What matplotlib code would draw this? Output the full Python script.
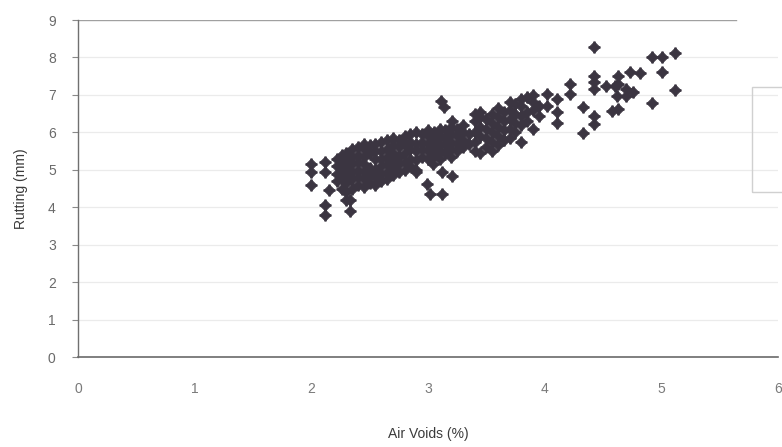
import matplotlib
matplotlib.use("Agg")
import matplotlib.pyplot as plt
from matplotlib.patches import Rectangle

plt.rcParams['font.family'] = ['Liberation Sans', 'DejaVu Sans']

# (air voids %, rutting mm)
air_voids = [
    2.00, 2.00, 2.00, 2.12, 2.12, 2.15, 2.12, 2.12, 2.33, 2.33,
    2.22, 2.22, 2.22, 2.22,
    2.26, 2.26, 2.26, 2.26, 2.26,
    2.30, 2.30, 2.30, 2.30, 2.30, 2.30, 2.30,
    2.35, 2.35, 2.35, 2.35, 2.35, 2.35,
    2.40, 2.40, 2.40, 2.40, 2.40, 2.40,
    2.45, 2.45, 2.45, 2.45, 2.45, 2.45, 2.45,
    2.50, 2.50, 2.50, 2.50, 2.50,
    2.55, 2.55, 2.55, 2.55, 2.55, 2.55,
    2.60, 2.60, 2.60, 2.60, 2.60, 2.60,
    2.65, 2.65, 2.65, 2.65, 2.65, 2.65,
    2.70, 2.70, 2.70, 2.70, 2.70, 2.70,
    2.75, 2.75, 2.75, 2.75, 2.75,
    2.80, 2.80, 2.80, 2.80, 2.80,
    2.85, 2.85, 2.85, 2.85, 2.85,
    2.90, 2.90, 2.90, 2.90, 2.90,
    2.95, 2.95, 2.95, 2.95,
    3.00, 3.00, 3.00, 3.00, 3.00,
    3.05, 3.05, 3.05, 3.05,
    3.10, 3.10, 3.10, 3.10, 3.10,
    3.15, 3.15, 3.15, 3.15,
    3.20, 3.20, 3.20, 3.20, 3.20,
    3.25, 3.25, 3.25, 3.25,
    3.30, 3.30, 3.30, 3.30,
    3.35, 3.35,
    2.90, 2.99, 3.02, 3.12, 3.12, 3.21, 3.04, 3.11, 3.14, 3.21,
    3.40, 3.40, 3.40, 3.40, 3.40,
    3.45, 3.45, 3.45, 3.45, 3.45,
    3.50, 3.50, 3.50, 3.50,
    3.55, 3.55, 3.55, 3.55, 3.55,
    3.60, 3.60, 3.60, 3.60, 3.60,
    3.65, 3.65, 3.65, 3.65,
    3.70, 3.70, 3.70, 3.70, 3.70,
    3.75, 3.75, 3.75, 3.75,
    3.80, 3.80, 3.80, 3.80, 3.80,
    3.85, 3.85, 3.85,
    3.90, 3.90, 3.90, 3.90,
    3.95, 3.95,
    4.02, 4.02, 4.11, 4.11, 4.11, 4.22, 4.22, 4.33, 4.33,
    4.42, 4.42, 4.42, 4.42, 4.42, 4.42,
    4.53, 4.60, 4.63, 4.63, 4.63, 4.58, 4.62,
    4.70, 4.70, 4.76, 4.73, 4.82,
    4.92, 4.92, 5.01, 5.01, 5.12, 5.12,
]
rutting = [
    5.15, 4.95, 4.60, 5.20, 4.95, 4.45, 4.05, 3.80, 4.20, 3.90,
    4.70, 4.90, 5.10, 5.30,
    4.50, 4.80, 5.00, 5.20, 5.40,
    4.20, 4.40, 4.65, 4.85, 5.05, 5.25, 5.45,
    4.50, 4.75, 4.95, 5.15, 5.35, 5.55,
    4.60, 4.80, 5.00, 5.20, 5.40, 5.60,
    4.55, 4.75, 4.95, 5.15, 5.35, 5.55, 5.70,
    4.65, 4.85, 5.05, 5.45, 5.65,
    4.60, 4.80, 5.00, 5.30, 5.50, 5.70,
    4.70, 4.90, 5.10, 5.30, 5.50, 5.75,
    4.75, 4.95, 5.15, 5.35, 5.55, 5.80,
    4.85, 5.05, 5.25, 5.45, 5.65, 5.85,
    4.95, 5.15, 5.35, 5.60, 5.80,
    5.00, 5.20, 5.45, 5.70, 5.90,
    5.10, 5.30, 5.55, 5.75, 5.95,
    5.00, 5.25, 5.50, 5.70, 6.00,
    5.35, 5.55, 5.75, 5.95,
    5.30, 5.50, 5.70, 5.90, 6.05,
    5.40, 5.60, 5.80, 6.00,
    5.30, 5.50, 5.70, 5.90, 6.10,
    5.45, 5.65, 5.85, 6.05,
    5.35, 5.55, 5.75, 5.95, 6.15,
    5.50, 5.70, 5.90, 6.10,
    5.60, 5.80, 6.00, 6.20,
    5.70, 5.95,
    4.95, 4.63, 4.36, 4.36, 4.95, 4.84, 5.16, 6.85, 6.68, 6.31,
    5.50, 5.75, 6.00, 6.30, 6.50,
    5.45, 5.90, 6.15, 6.40, 6.55,
    5.60, 5.85, 6.10, 6.35,
    5.50, 5.75, 6.00, 6.25, 6.50,
    5.65, 5.90, 6.15, 6.40, 6.65,
    5.80, 6.05, 6.30, 6.55,
    5.85, 6.10, 6.35, 6.60, 6.80,
    6.00, 6.25, 6.50, 6.75,
    5.75, 6.20, 6.45, 6.70, 6.90,
    6.30, 6.55, 6.95,
    6.10, 6.60, 6.80, 7.00,
    6.45, 6.70,
    6.71, 7.03, 6.90, 6.55, 6.26, 7.30, 7.03, 6.68, 5.99,
    8.29, 7.50, 7.35, 7.17, 6.44, 6.23,
    7.25, 7.25, 7.50, 7.30, 6.63, 6.58, 6.97,
    7.17, 6.97, 7.09, 7.62, 7.59,
    8.00, 6.79, 8.00, 7.62, 8.12, 7.14,
]

x_ticks = [0, 1, 2, 3, 4, 5, 6]
y_ticks = [0, 1, 2, 3, 4, 5, 6, 7, 8, 9]

fig = plt.figure(figsize=(7.82, 4.47), dpi=100)
ax = fig.add_axes([0.0997, 0.2013, 0.895, 0.7539])

ax.scatter(air_voids, rutting, marker='D', s=32, color='#3b3541',
           edgecolors='#3b3541', linewidths=0.6, zorder=3)
ax.scatter(air_voids, rutting, marker='+', s=70, color='#3b3541',
           linewidths=1.8, zorder=3)

ax.set_xlim(0, 6)
ax.set_ylim(0, 9)
ax.set_xticks(x_ticks)
ax.set_yticks(y_ticks)

for yv in y_ticks[1:-1]:
    ax.axhline(yv, color='#ebebeb', lw=0.9, zorder=1)
ax.axhline(9, xmin=0, xmax=0.94, color='#a0a0a0', lw=1.0, zorder=1)

for s in ['top', 'right']:
    ax.spines[s].set_visible(False)
ax.spines['left'].set_color('#707070')
ax.spines['bottom'].set_color('#6a6a6a')
ax.spines['left'].set_linewidth(1.0)
ax.spines['bottom'].set_linewidth(1.2)

ax.tick_params(axis='y', length=4, direction='out', color='#8a8a8a',
               labelsize=10, labelcolor='#6a6a6a', pad=12)
ax.tick_params(axis='x', length=0, labelsize=10, labelcolor='#7a7a7a', pad=18)

ax.set_xlabel('Air Voids (%)', fontsize=10, color='#3a3a3a', labelpad=22)
ax.set_ylabel('Rutting (mm)', fontsize=10, color='#3a3a3a', labelpad=14)

# faint legend frame at the right edge of the scan
fig.patches.append(Rectangle((752 / 782, 1 - 192 / 447), 0.05, 105 / 447,
                             transform=fig.transFigure, fill=False,
                             edgecolor='#d0d0d0', lw=1.0))

fig.savefig('out.png', dpi=100, facecolor='white')
